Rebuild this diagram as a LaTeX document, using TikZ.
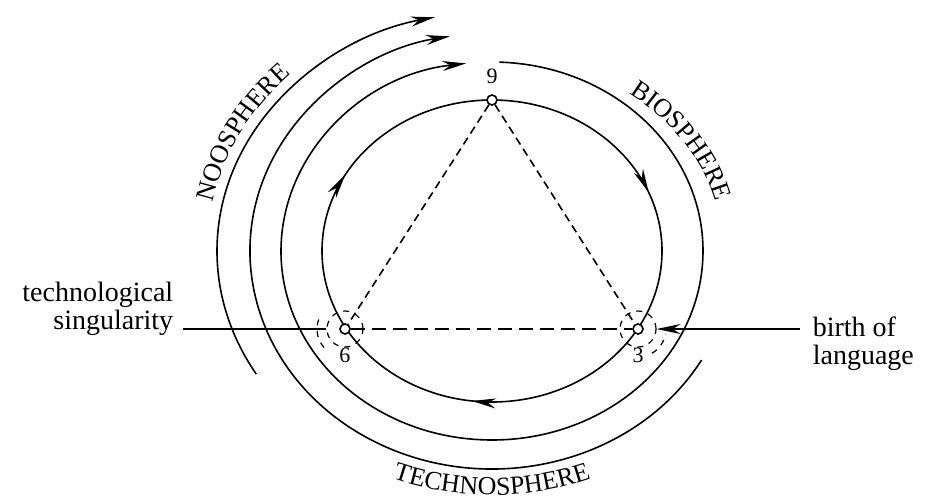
\documentclass[tikz,border=0pt]{standalone}
\usepackage{fontspec}
\setmainfont{Liberation Serif}
\usetikzlibrary{arrows.meta,positioning,decorations.text,decorations.markings}

\newcommand\spherefont{\fontsize{13}{15}\selectfont}

\begin{document}
\begin{tikzpicture}[
    x=0.5pt, y=0.5pt,
    line width=0.8pt,
    >={Stealth[length=12pt,width=5pt]},
    dot/.style={circle, draw, fill=white, inner sep=0pt, minimum size=5pt},
    halo/.style={circle, draw, dashed, line width=0.6pt, inner sep=0pt, minimum size=18pt},
    num/.style={font=\fontsize{11}{13}\selectfont, inner sep=1pt},
    side/.style={font=\fontsize{14}{14}\selectfont, inner sep=0pt},
    chord/.style={dash pattern=on 4pt off 2.5pt},
    sphere/.style={decorate, decoration={text along path, text align=center, text={|\spherefont|#1}}}
  ]
  \useasboundingbox (-492,-248) rectangle (433,251);

  % inner cycle
  \draw[decoration={markings,
      mark=at position 0.19 with {\arrow{>}},
      mark=at position 0.52 with {\arrow{>}},
      mark=at position 0.83 with {\arrow{>}}}, postaction={decorate}]
    (0,151) arc[start angle=90, end angle=-270, x radius=170, y radius=151];

  % outer spheres
  \draw[->] (88:211 and 189) arc[start angle=88, end angle=-263, x radius=211, y radius=189];
  \draw[->] (-30:242 and 218) arc[start angle=-30, end angle=-260, x radius=242, y radius=218];
  \draw[->] (211:275 and 239) arc[start angle=211, end angle=102, x radius=275, y radius=239];

  \path[sphere=NOOSPHERE] (185:285 and 250) arc[start angle=185, end angle=120, x radius=285, y radius=250];
  \path[sphere=BIOSPHERE] (68:231 and 196) arc[start angle=68, end angle=-2, x radius=231, y radius=196];
  \path[sphere=TECHNOSPHERE] (240:275 and 244) arc[start angle=240, end angle=300, x radius=275, y radius=244];

  % points on the cycle
  \node[dot] (p9) at (0,151) {};
  \node[dot] (p6) at (-147,-78) {};
  \node[dot] (p3) at (146,-78) {};
  \node[halo] (c6) at (p6) {};
  \node[halo] (c3) at (p3) {};
  \node[num, above=4pt of p9] (n9) {9};
  \node[num, below=5pt of p6] (n6) {6};
  \node[num, below=5pt of p3] (n3) {3};
  \draw[dashed, line width=0.6pt] (p6) ++(160:14pt) arc[start angle=160, end angle=230, radius=14pt];
  \draw[dashed, line width=0.6pt] (p3) ++(-60:14pt) arc[start angle=-60, end angle=-10, radius=14pt];

  \draw[chord] (p9) -- (p6);
  \draw[chord] (p9) -- (p3);
  \draw[line width=1.2pt, dash pattern=on 7pt off 3.5pt] (p6) -- (p3);

  % side labels
  \node[side, align=right, anchor=east] (sing) at (-318,-58) {technological\\singularity};
  \coordinate (singend) at (-309,-78);
  \draw (singend) -- (c6);
  \node[side, align=left, anchor=west] (lang) at (320,-93) {birth of\\language};
  \coordinate (langend) at (308,-78);
  \draw[->] (langend) -- (c3);
\end{tikzpicture}
\end{document}
